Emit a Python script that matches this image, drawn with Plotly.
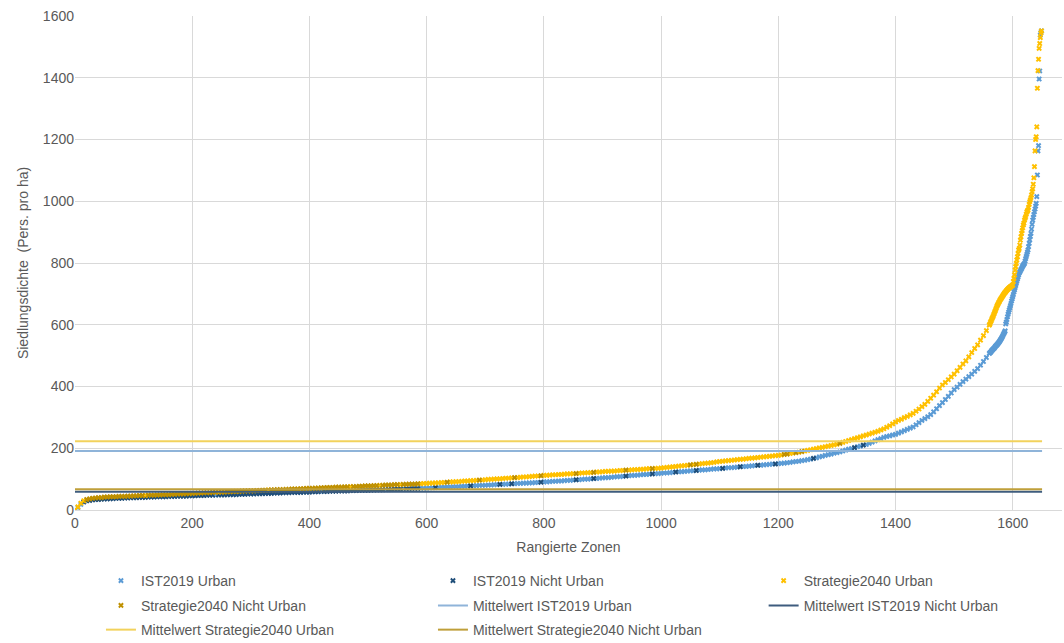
import plotly.graph_objects as go

## Data: Siedlungsdichte (Pers. pro ha) per ranked zone
# body of each curve sampled every 5th rank (0 .. 1555), tail listed zone by zone (1560 .. 1649)
rank_step = 5
tail_start = 1560
n_zones = 1650

ist_body = [
    0, 8, 18, 26, 30, 31, 33, 34, 34, 35, 36, 36, 37, 37, 38, 38, 38, 39, 39, 40,
    40, 40, 41, 41, 41, 42, 42, 42, 43, 43, 43, 43, 44, 44, 44, 45, 45, 45, 45, 46,
    46, 46, 47, 47, 47, 48, 48, 48, 48, 49, 49, 49, 50, 50, 50, 50, 51, 51, 51, 52,
    52, 52, 53, 53, 53, 54, 54, 54, 55, 55, 55, 56, 56, 56, 57, 57, 57, 57, 58, 58,
    58, 59, 59, 59, 60, 60, 60, 61, 61, 61, 62, 62, 62, 62, 63, 63, 63, 64, 64, 64,
    64, 65, 65, 66, 66, 66, 67, 67, 67, 68, 68, 68, 69, 69, 69, 70, 70, 70, 71, 71,
    71, 72, 72, 73, 73, 74, 74, 75, 75, 76, 76, 76, 77, 77, 78, 78, 79, 79, 80, 80,
    80, 81, 81, 82, 82, 83, 83, 84, 84, 85, 85, 86, 86, 87, 87, 88, 88, 89, 89, 90,
    91, 91, 92, 93, 93, 94, 94, 95, 96, 96, 97, 98, 98, 99, 100, 100, 101, 102, 102, 103,
    104, 105, 105, 106, 107, 108, 108, 109, 110, 111, 112, 112, 113, 114, 115, 115, 116, 117, 118, 118,
    119, 120, 120, 121, 122, 123, 124, 124, 125, 126, 127, 127, 128, 129, 130, 130, 131, 132, 133, 133,
    134, 135, 136, 137, 137, 138, 139, 140, 141, 141, 142, 143, 144, 145, 145, 146, 147, 148, 149, 149,
    150, 151, 152, 153, 154, 156, 157, 158, 160, 161, 163, 165, 167, 169, 172, 174, 177, 179, 181, 184,
    186, 188, 191, 194, 197, 199, 202, 205, 207, 210, 212, 216, 220, 224, 228, 231, 235, 238, 240, 243,
    245, 249, 253, 257, 261, 265, 269, 276, 283, 290, 296, 302, 309, 318, 328, 338, 348, 358, 368, 379,
    390, 398, 407, 416, 424, 432, 440, 449, 458, 469, 481, 494,
]
ist_tail = [
    507, 509, 511, 513, 516, 518, 520, 522, 524, 526,
    529, 531, 533, 535, 537, 540, 542, 545, 548, 551,
    554, 557, 561, 565, 569, 572, 576, 580, 603, 609,
    617, 626, 634, 641, 648, 655, 662, 669, 677, 684,
    691, 698, 706, 713, 720, 727, 734, 741, 748, 754,
    761, 767, 771, 775, 779, 782, 786, 790, 793, 796,
    799, 806, 814, 821, 828, 835, 842, 853, 864, 875,
    886, 896, 910, 925, 939, 948, 957, 966, 975, 984,
    993, 1015, 1085, 1163, 1180, 1396, 1422, 1538, 1546, 1552,
]

strat_body = [
    0, 10, 22, 30, 34, 36, 38, 39, 40, 40, 42, 42, 43, 43, 43, 44, 44, 44, 45, 45,
    46, 46, 47, 47, 47, 48, 48, 48, 49, 49, 50, 50, 50, 51, 51, 52, 52, 52, 53, 53,
    54, 54, 55, 55, 56, 56, 56, 57, 57, 58, 58, 58, 59, 59, 60, 60, 60, 61, 61, 62,
    62, 62, 63, 63, 64, 64, 65, 65, 65, 66, 66, 66, 67, 67, 68, 68, 68, 69, 69, 70,
    70, 70, 71, 71, 72, 72, 73, 73, 73, 74, 74, 74, 75, 75, 76, 76, 76, 77, 77, 78,
    78, 78, 79, 79, 80, 80, 81, 81, 81, 82, 82, 82, 83, 83, 84, 84, 84, 85, 85, 86,
    86, 87, 87, 88, 88, 89, 89, 90, 91, 91, 92, 92, 93, 94, 94, 95, 95, 96, 97, 97,
    98, 99, 99, 100, 101, 101, 102, 103, 103, 104, 105, 105, 106, 107, 107, 108, 109, 110, 110, 111,
    112, 112, 113, 114, 114, 115, 115, 116, 117, 117, 118, 118, 119, 120, 120, 121, 121, 122, 123, 123,
    124, 125, 125, 126, 126, 127, 128, 128, 129, 129, 130, 131, 131, 132, 132, 133, 134, 134, 135, 135,
    136, 137, 138, 139, 140, 141, 142, 143, 144, 145, 146, 147, 148, 149, 150, 151, 152, 153, 154, 156,
    157, 158, 159, 160, 161, 162, 163, 164, 165, 166, 167, 168, 169, 170, 171, 172, 173, 174, 175, 176,
    177, 178, 180, 181, 183, 184, 186, 187, 189, 191, 193, 195, 197, 199, 201, 203, 205, 207, 209, 211,
    213, 216, 219, 222, 225, 228, 231, 234, 237, 240, 243, 246, 249, 252, 255, 259, 263, 268, 273, 279,
    285, 290, 294, 299, 303, 308, 313, 320, 327, 335, 342, 352, 362, 372, 383, 395, 405, 413, 422, 431,
    440, 451, 462, 473, 483, 496, 510, 523, 535, 550, 565, 581,
]
strat_tail = [
    599, 603, 608, 612, 617, 621, 626, 630, 635, 640,
    645, 650, 655, 660, 664, 668, 672, 675, 679, 682,
    685, 688, 691, 694, 697, 700, 703, 705, 707, 710,
    712, 714, 716, 718, 720, 721, 723, 724, 726, 727,
    729, 740, 750, 762, 777, 788, 799, 810, 820, 831,
    842, 847, 858, 874, 885, 896, 905, 914, 923, 929,
    939, 945, 950, 958, 965, 969, 972, 980, 990, 999,
    1005, 1012, 1020, 1031, 1040, 1055, 1076, 1112, 1163, 1200,
    1209, 1241, 1366, 1423, 1460, 1495, 1511, 1530, 1545, 1552,
]

## Urban / Nicht Urban: low ranks are mostly Nicht Urban, high ranks mostly Urban
split_rank = 590
ist_urban_low = [0, 5, 10, 240, 420, 530, 560]
ist_nicht_high = [615, 675, 725, 745, 795, 855, 885, 940, 985, 1025, 1060, 1105, 1135,
                  1165, 1195, 1260, 1330, 1345]
strat_urban_low = [0, 5, 10, 15, 120, 245, 330, 470, 520, 555]
strat_nicht_high = [635, 690, 750, 795, 855, 885, 940, 985, 1050, 1060, 1210, 1215, 1230,
                    1240, 1305]

## Mean values (horizontal lines)
mean_ist_urban = 191
mean_ist_nicht = 59
mean_strat_urban = 223
mean_strat_nicht = 67

## Colors
col_ist_urban = "#5B9BD5"
col_ist_nicht = "#1F4E79"
col_strat_urban = "#FFC000"
col_strat_nicht = "#BF9000"
col_mean_ist_urban = "#8FB4D9"
col_mean_ist_nicht = "#3E5C7E"
col_mean_strat_urban = "#F2D25C"
col_mean_strat_nicht = "#BF9F3A"


def ranks_for(body, tail):
    return [i * rank_step for i in range(len(body))] + [tail_start + i for i in range(len(tail))]


def split_zones(ranks, values, urban_low, nicht_high):
    """Split one ranked curve into (urban, nicht urban) point lists"""
    urban, nicht = ([], []), ([], [])
    for r, v in zip(ranks, values):
        is_urban = (r in urban_low) if r < split_rank else (r not in nicht_high)
        target = urban if is_urban else nicht
        target[0].append(r)
        target[1].append(v)
    return urban, nicht


ist_u, ist_n = split_zones(ranks_for(ist_body, ist_tail), ist_body + ist_tail, ist_urban_low, ist_nicht_high)
strat_u, strat_n = split_zones(ranks_for(strat_body, strat_tail), strat_body + strat_tail, strat_urban_low, strat_nicht_high)

fig = go.Figure()

# Scatter series (Excel style small x markers)
# legend grid of 3 columns is built from several legends: (rows 1-3, cols 1-2) + col 3
for pts, name, color, leg in [
    (ist_u, "IST2019 Urban", col_ist_urban, "legend"),
    (ist_n, "IST2019 Nicht Urban", col_ist_nicht, "legend"),
    (strat_u, "Strategie2040 Urban", col_strat_urban, "legend2"),
    (strat_n, "Strategie2040 Nicht Urban", col_strat_nicht, "legend3"),
]:
    fig.add_trace(go.Scatter(x=pts[0], y=pts[1], mode="markers", name=name, legend=leg,
                             marker=dict(symbol="x", size=5, color=color, line=dict(width=0))))

# Mean lines
for val, name, color, leg in [
    (mean_ist_urban, "Mittelwert IST2019 Urban", col_mean_ist_urban, "legend3"),
    (mean_ist_nicht, "Mittelwert IST2019 Nicht Urban", col_mean_ist_nicht, "legend4"),
    (mean_strat_urban, "Mittelwert Strategie2040 Urban", col_mean_strat_urban, "legend5"),
    (mean_strat_nicht, "Mittelwert Strategie2040 Nicht Urban", col_mean_strat_nicht, "legend5"),
]:
    fig.add_trace(go.Scatter(x=[0, n_zones], y=[val, val], mode="lines", name=name, legend=leg,
                             line=dict(color=color, width=2)))

legend_style = dict(orientation="h", xanchor="left", yanchor="middle",
                    entrywidth=287, entrywidthmode="pixels", traceorder="normal",
                    font=dict(size=14, color="#595959"), bgcolor="rgba(0,0,0,0)")
col1_x, col3_x = 0.0263, 0.6977
row_y = [-0.1437, -0.194, -0.243]

fig.update_layout(
    width=1064,
    height=643,
    margin=dict(l=75, r=2, t=16, b=133, autoexpand=False),
    plot_bgcolor="white",
    paper_bgcolor="white",
    font=dict(family="Liberation Sans, Arial, sans-serif", size=14, color="#595959"),
    showlegend=True,
    legend=dict(legend_style, x=col1_x, y=row_y[0]),
    legend2=dict(legend_style, x=col3_x, y=row_y[0]),
    legend3=dict(legend_style, x=col1_x, y=row_y[1]),
    legend4=dict(legend_style, x=col3_x, y=row_y[1]),
    legend5=dict(legend_style, x=col1_x, y=row_y[2]),
)
fig.update_xaxes(range=[0, 1684], tick0=0, dtick=200, showgrid=True, gridcolor="#D9D9D9",
                 zeroline=False, showline=True, linecolor="#D9D9D9",
                 title=dict(text="Rangierte Zonen", standoff=12, font=dict(size=14)))
fig.update_yaxes(range=[0, 1600], tick0=0, dtick=200, showgrid=True, gridcolor="#D9D9D9",
                 zeroline=False,
                 title=dict(text="Siedlungsdichte  (Pers. pro ha)", standoff=10, font=dict(size=14)))

# page body margin would shift the figure by 8px
fig.write_html("out.html", config={"displayModeBar": False},
               post_script="document.body.style.margin='0';")
